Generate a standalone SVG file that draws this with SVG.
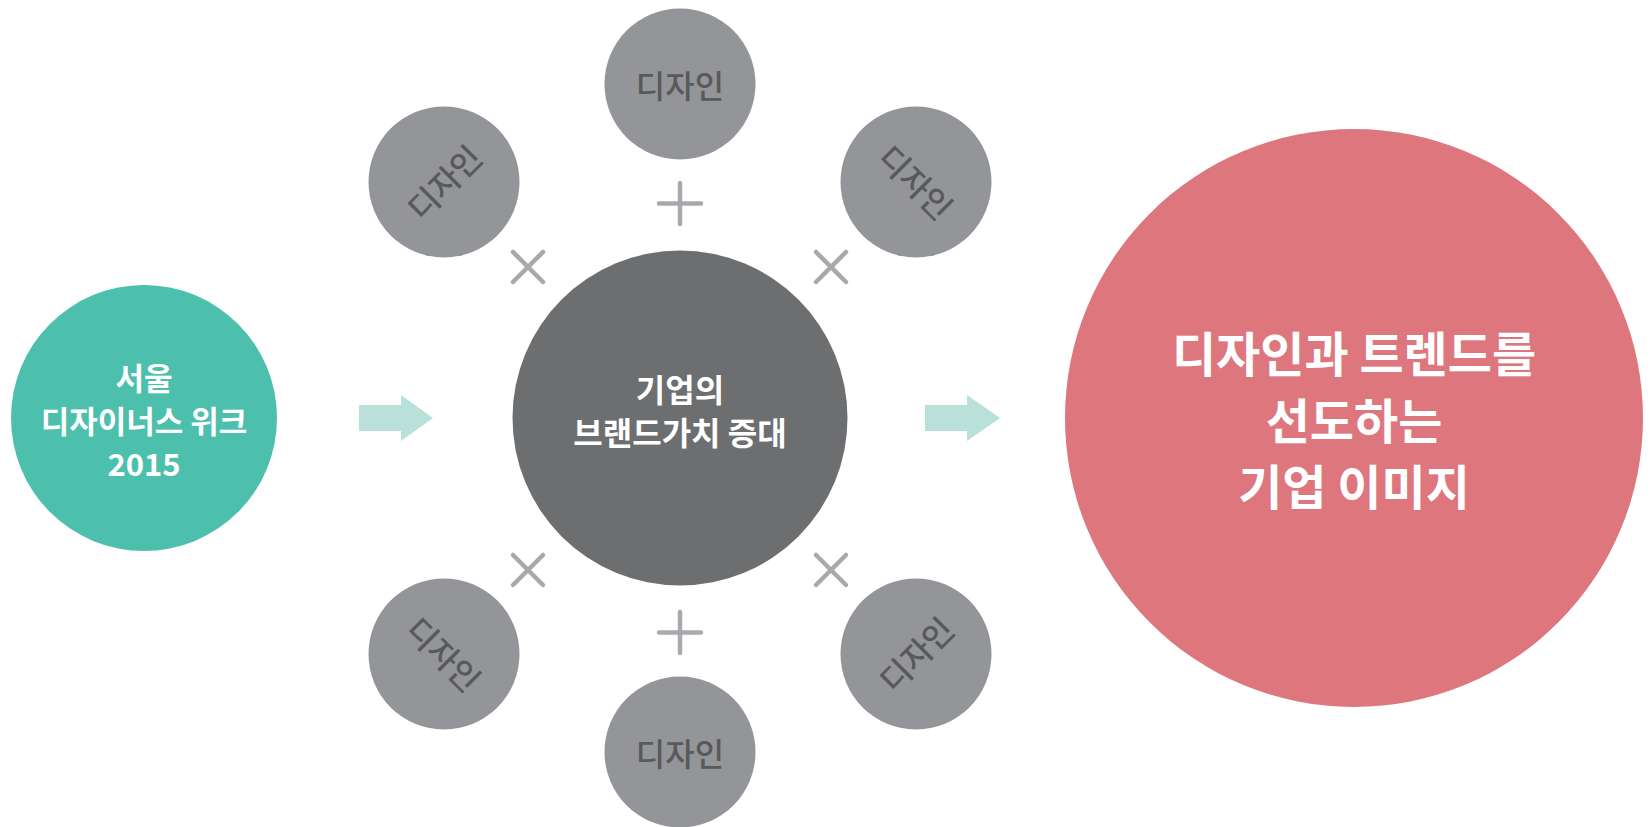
<svg xmlns="http://www.w3.org/2000/svg" width="1652" height="827" viewBox="0 0 1652 827">
<defs>
<style>
.ko{font-family:"Noto Sans CJK KR","Noto Sans CJK SC",sans-serif;text-anchor:middle}
.w{fill:#ffffff;font-weight:700}
.sm{fill:#58595b;font-size:32px;font-weight:500}
.sc{fill:#939598}
.mk{stroke:#a7a9ac;stroke-width:4.5;stroke-linecap:round;fill:none}
.ar{fill:#b9e1da}
</style>
</defs>
<rect width="1652" height="827" fill="#ffffff"/>
<g id="connectors">
<polygon class="ar" points="359,405 401,405 401,395 433,418 401,441 401,431 359,431"/>
<polygon class="ar" points="925,405 967,405 967,395 1000,418 967,441 967,431 925,431"/>
<path class="mk" d="M680,183 V224 M659,203.5 H701"/>
<path class="mk" d="M680,612 V653 M659,632.5 H701"/>
<path class="mk" d="M513,252 L543,282 M543,252 L513,282"/>
<path class="mk" d="M816,252 L846,282 M846,252 L816,282"/>
<path class="mk" d="M513,555 L543,585 M543,555 L513,585"/>
<path class="mk" d="M816,555 L846,585 M846,555 L816,585"/>
</g>
<g id="seoul">
<circle cx="144" cy="418" r="133" fill="#4dc0ad"/>
<text class="ko w" font-size="31" x="144" y="390">서울</text>
<text class="ko w" font-size="31" x="144" y="433">디자이너스 위크</text>
<text class="ko w" font-size="31" x="144" y="476">2015</text>
</g>
<g id="brand">
<circle cx="680" cy="418" r="167.5" fill="#6d6e70"/>
<text class="ko w" font-size="32" x="680" y="402">기업의</text>
<text class="ko w" font-size="32" x="680" y="445">브랜드가치 증대</text>
</g>
<g id="design-top">
<circle class="sc" cx="680" cy="84" r="75.5"/>
<text class="ko sm" x="680" y="98">디자인</text>
</g>
<g id="design-upper-left">
<circle class="sc" cx="444" cy="182" r="75.5"/>
<text class="ko sm" x="444" y="195" transform="rotate(-45 444 182)">디자인</text>
</g>
<g id="design-upper-right">
<circle class="sc" cx="916" cy="182" r="75.5"/>
<text class="ko sm" x="916" y="195" transform="rotate(45 916 182)">디자인</text>
</g>
<g id="design-lower-left">
<circle class="sc" cx="444" cy="654" r="75.5"/>
<text class="ko sm" x="444" y="667" transform="rotate(45 444 654)">디자인</text>
</g>
<g id="design-lower-right">
<circle class="sc" cx="916" cy="654" r="75.5"/>
<text class="ko sm" x="916" y="667" transform="rotate(-45 916 654)">디자인</text>
</g>
<g id="design-bottom">
<circle class="sc" cx="680" cy="752" r="75.5"/>
<text class="ko sm" x="680" y="766">디자인</text>
</g>
<g id="corporate-image">
<circle cx="1354" cy="418" r="289" fill="#dd767d"/>
<text class="ko w" font-size="48" x="1354" y="372">디자인과 트렌드를</text>
<text class="ko w" font-size="48" x="1354" y="439">선도하는</text>
<text class="ko w" font-size="48" x="1354" y="505">기업 이미지</text>
</g>
</svg>
